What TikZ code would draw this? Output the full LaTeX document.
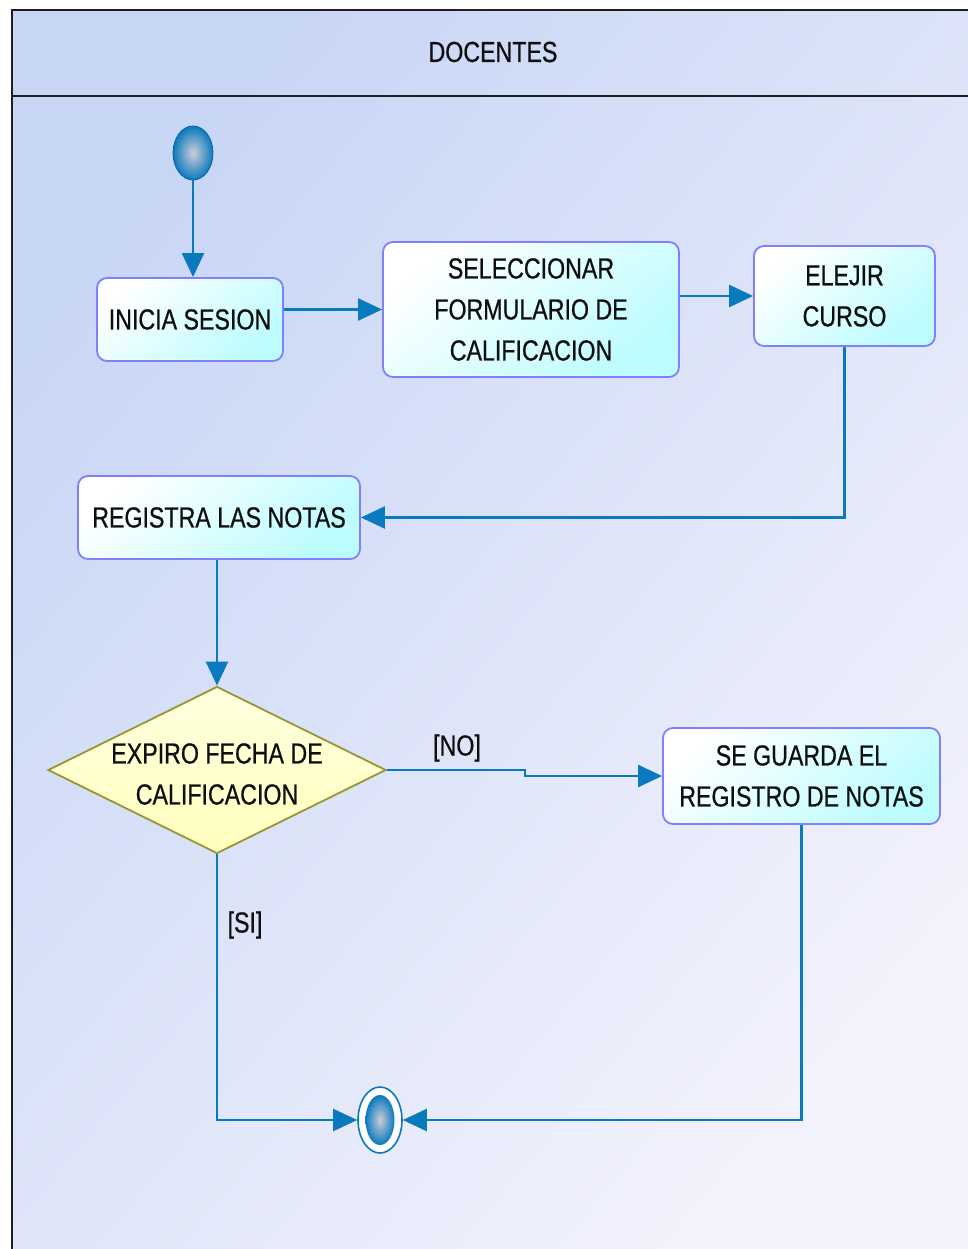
\documentclass[tikz,border=0pt]{standalone}
\usepackage{fontspec}
\setmainfont{Liberation Sans}[FakeStretch=0.8,FakeBold=0.6]
\usetikzlibrary{shapes.geometric,arrows.meta}
\definecolor{bgA}{RGB}{200,214,245}
\definecolor{bgB}{RGB}{242,242,252}
\definecolor{boxline}{RGB}{128,128,250}
\definecolor{boxfill}{RGB}{188,252,255}
\definecolor{decline}{RGB}{150,150,50}
\definecolor{decfill}{RGB}{255,255,190}
\definecolor{flow}{RGB}{10,122,190}
\definecolor{ink}{RGB}{15,15,15}
\definecolor{frameline}{RGB}{30,30,30}
\begin{document}
\begin{tikzpicture}[x=1pt,y=-1pt,
  txt/.style={font=\fontsize{29}{41}\selectfont, text=ink, align=center, inner sep=0pt},
  actbox/.style={txt, draw=boxline, line width=1.8pt, rounded corners=10pt,
    top color=white, bottom color=boxfill, shading angle=40},
  decision/.style={diamond, draw=decline, line width=1.8pt, inner sep=0pt,
    top color=decfill!50!white, bottom color=decfill, minimum width=338pt, minimum height=167pt},
  flowline/.style={draw=flow, line width=2.3pt},
  flowarrow/.style={flowline, -{Triangle[length=24pt,width=22pt]}},
  frame/.style={draw=frameline, line width=2.5pt}
]
\useasboundingbox (0,0) rectangle (968,1249);
\shade[top color=bgA, bottom color=bgB, shading angle=50] (12,10) rectangle (968,1249);
\draw[frame] (12,1249) -- (12,10) -- (968,10);
\draw[frame] (12,96) -- (968,96);
\node[txt] (title) at (493,52) {DOCENTES};

\node[ellipse, draw=flow!80!black, line width=0.8pt, inner color={rgb,255:red,205;green,205;blue,215}, outer color=flow,
  minimum width=40pt, minimum height=54pt, inner sep=0pt] (start) at (193,153) {};

\node[actbox, minimum width=186pt, minimum height=83pt] (inicia) at (190,319.5) {INICIA SESION};
\node[actbox, minimum width=296pt, minimum height=135pt] (selec) at (531,309.5) {SELECCIONAR\\FORMULARIO DE\\CALIFICACION};
\node[actbox, minimum width=181pt, minimum height=100pt] (elejir) at (844.5,296) {ELEJIR\\CURSO};
\node[actbox, minimum width=282pt, minimum height=83pt] (registra) at (219,517.5) {REGISTRA LAS NOTAS};
\node[decision] (dec) at (217,770) {};
\node[txt] (dectext) at (217,774) {EXPIRO FECHA DE\\CALIFICACION};
\node[actbox, minimum width=277pt, minimum height=96pt] (guarda) at (801.5,776) {SE GUARDA EL\\REGISTRO DE NOTAS};

\node[ellipse, draw=flow, line width=1.6pt, fill=white, minimum width=44pt, minimum height=66pt, inner sep=0pt] (final) at (380,1120) {};
\node[ellipse, inner color={rgb,255:red,205;green,205;blue,215}, outer color=flow,
  minimum width=29pt, minimum height=50pt, inner sep=0pt] (finalcore) at (final.center) {};

\node[txt] (nolabel) at (457,748) {[NO]};
\node[txt] (silabel) at (245,925) {[SI]};
\coordinate (nobend) at (525,770);

\draw[flowarrow] (start.south) -- (start.south |- inicia.north);
\draw[flowarrow] (inicia.east |- selec.west) -- (selec.west);
\draw[flowarrow] (selec.east |- elejir.west) -- (elejir.west);
\draw[flowarrow] (elejir.south) |- (registra.east);
\draw[flowarrow] (registra.south -| dec.north) -- (dec.north);
\draw[flowarrow] (dec.east) -- (nobend) |- (guarda.west);
\draw[flowarrow] (dec.south) |- (final.west);
\draw[flowarrow] (guarda.south) |- (final.east);
\end{tikzpicture}
\end{document}
